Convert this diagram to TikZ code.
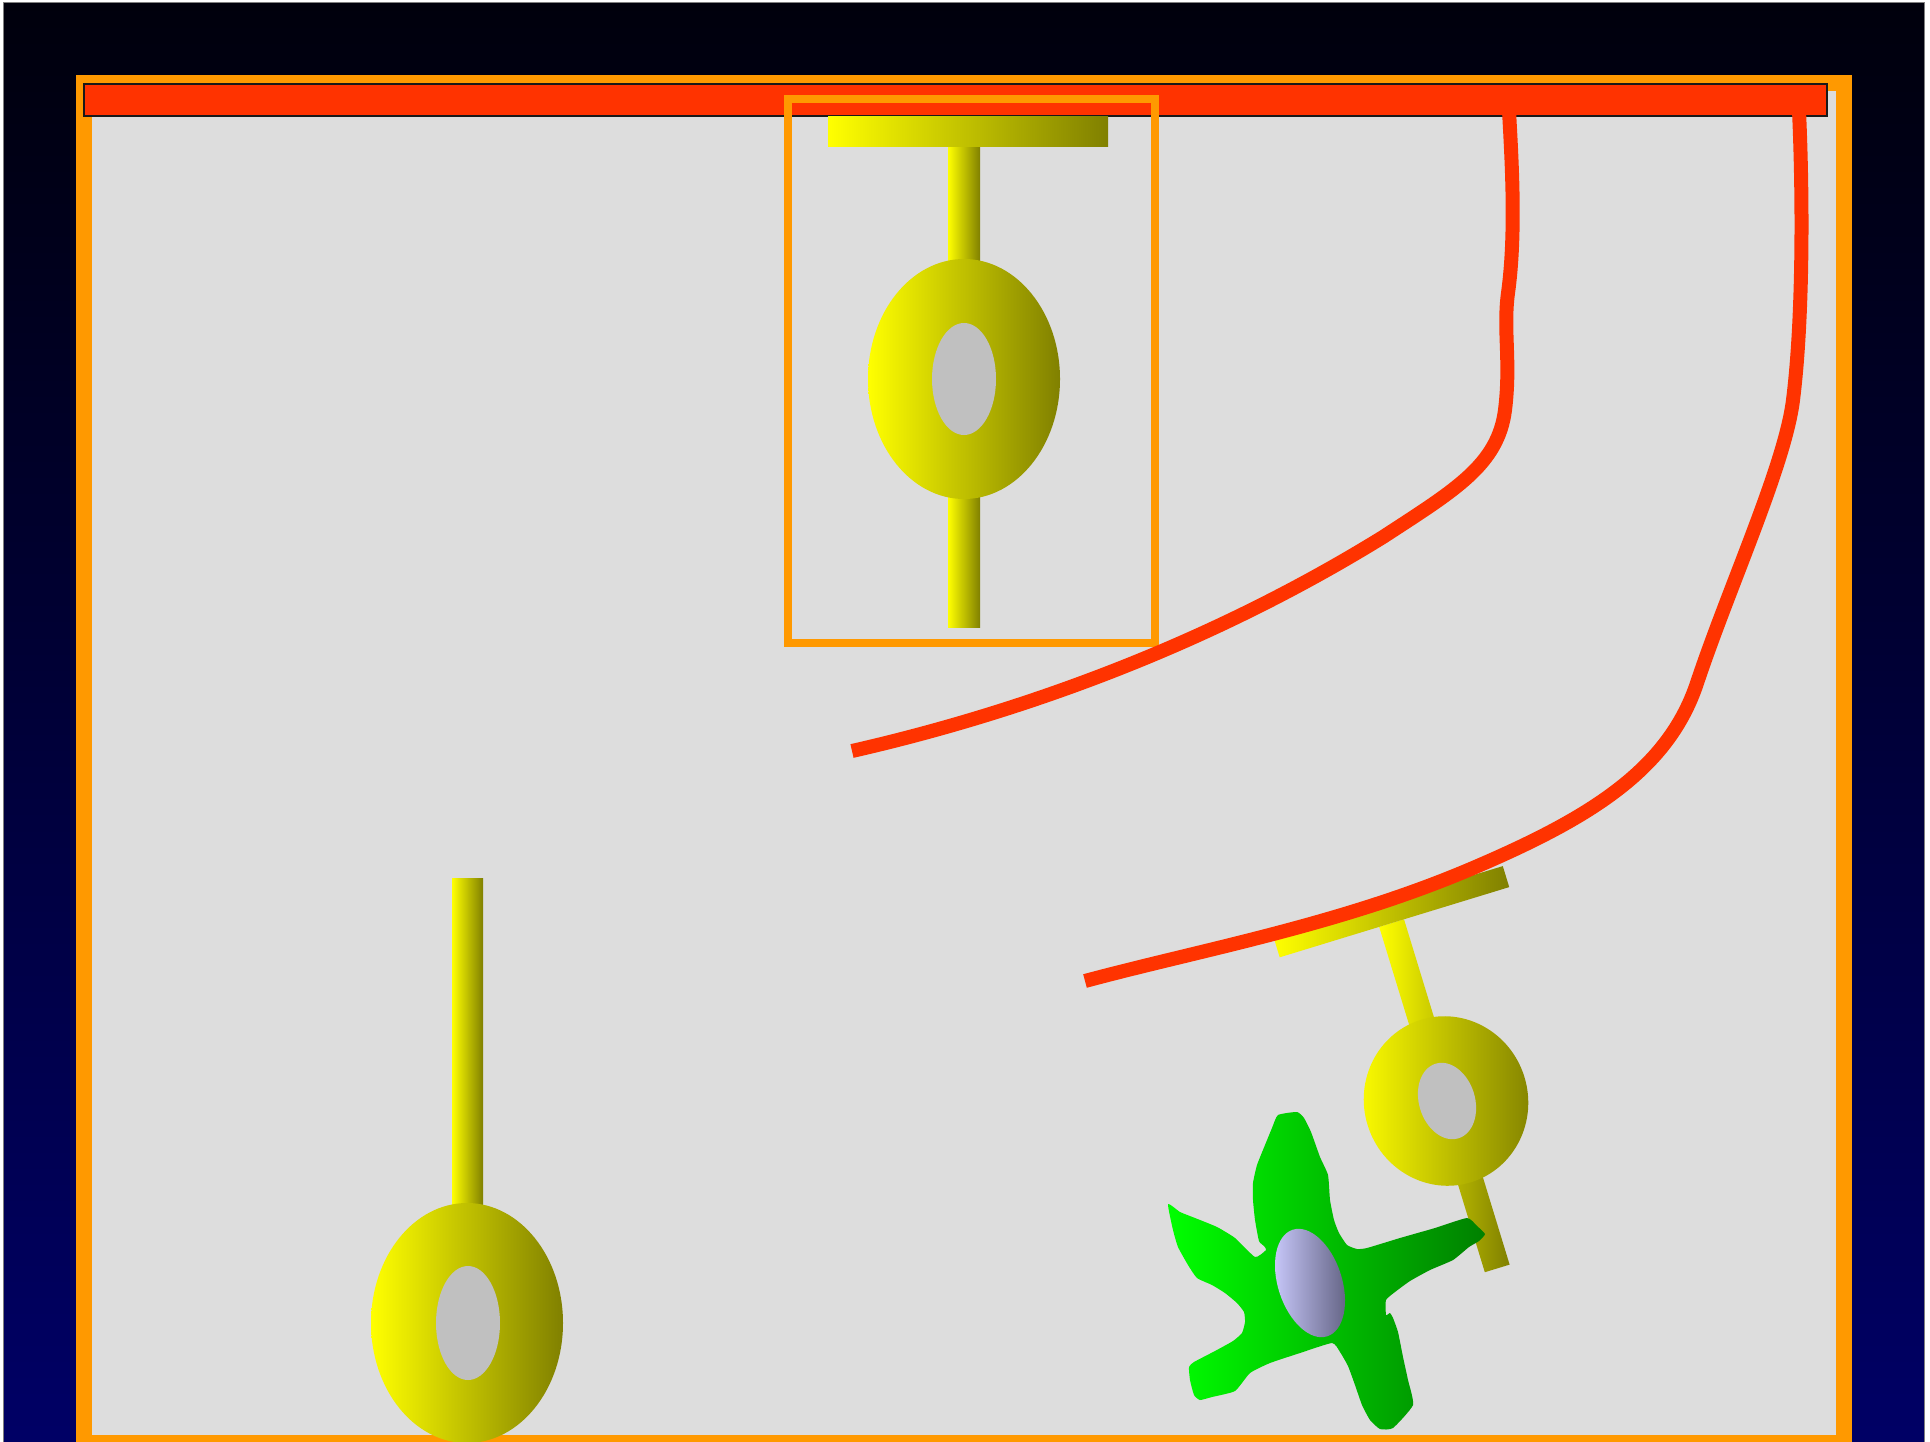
\documentclass[tikz,border=0pt]{standalone}
\usetikzlibrary{calc}
\definecolor{bgtop}{RGB}{0,0,12}
\definecolor{bgbottom}{RGB}{0,0,102}
\definecolor{chamber}{HTML}{DDDDDD}
\definecolor{frameorange}{HTML}{FF9900}
\definecolor{cellred}{HTML}{FF3300}
\definecolor{cellyellow}{HTML}{FFFF00}
\definecolor{cellolive}{HTML}{808000}
\definecolor{nucgrey}{HTML}{C0C0C0}
\definecolor{leafgreen}{HTML}{00FF00}
\definecolor{darkleaf}{HTML}{008000}
\definecolor{lavlight}{HTML}{CCCCFF}
\definecolor{lavdark}{HTML}{606080}
\begin{document}
\begin{tikzpicture}[x=1pt,y=-1pt,
  membrane/.style={draw=cellred, line width=14pt, line cap=butt, line join=round},
  cellbody/.style={left color=cellyellow, right color=cellolive},
  nucleus/.style={fill=nucgrey},
  greencell/.style={left color=leafgreen, right color=darkleaf},
  lavnucleus/.style={left color=lavlight, right color=lavdark}]
\useasboundingbox (0,0) rectangle (1930,1442);
\clip (0,0) rectangle (1930,1442);
\fill[white] (0,0) rectangle (1930,1442);

% dark backdrop
\shade[top color=bgtop, bottom color=bgbottom] (3,3) rectangle (1924,1450);
\draw[gray, line width=1pt] (3,1450) -- (3,3) -- (1924,3) -- (1924,1450);

% chamber with orange wall
\filldraw[fill=chamber, draw=frameorange, line width=16pt] (84,83) rectangle (1844,1443);

% red top plate
\filldraw[fill=cellred, draw=black!90, line width=2pt] (84,84) rectangle (1827,116);

% highlight box
\draw[frameorange, line width=8pt] (788,99) rectangle (1155,643);

% upper cell (hanging from the plate)
\shade[cellbody] (948,147) rectangle (980,627);
\shade[cellbody] (828,117) rectangle (1108,147);
\shade[cellbody] (964,379) ellipse [x radius=96, y radius=120];
\fill[nucleus] (964,379) ellipse [x radius=32, y radius=56];

% lower left cell
\shade[cellbody] (452,878) rectangle (483,1323);
\shade[cellbody] (467,1323) ellipse [x radius=96, y radius=120];
\fill[nucleus] (468,1323) ellipse [x radius=32, y radius=57];

% tilted cell on the right
\shade[cellbody] (1379.2,926.9) -- (1404.0,919.3) -- (1509.6,1264.6) -- (1484.8,1272.2) -- cycle;
\shade[cellbody] (1273.3,936.3) -- (1502.8,866.1) -- (1509.2,887.1) -- (1279.7,957.3) -- cycle;
\shade[cellbody] (1446,1101) ellipse [x radius=82, y radius=85, rotate=17];
\fill[nucleus] (1447,1101) ellipse [x radius=28, y radius=39, rotate=17];

% red strands
\coordinate (strandA) at (1509,111);
\coordinate (endA) at (852,751);
\draw[membrane] (strandA)
  .. controls (1512,165) and (1516,235) .. (1508,293)
  .. controls (1503,330) and (1511,362) .. (1505,410)
  .. controls (1498,465) and (1455,490) .. (1383,537)
  .. controls (1200,650) and (1010,715) .. (endA);
\coordinate (strandB) at (1799,111);
\coordinate (endB) at (1085,981);
\draw[membrane] (strandB)
  .. controls (1803,200) and (1803,320) .. (1793,400)
  .. controls (1785,465) and (1729,587) .. (1697,683)
  .. controls (1668,770) and (1590,818) .. (1473,868)
  .. controls (1340,925) and (1200,950) .. (endB);

% green star-shaped cell
\shade[greencell] plot[smooth cycle, tension=0.3] coordinates {
  (1278,1115) (1297,1112) (1304,1118) (1311,1132) (1320,1157) (1328,1175)
  (1330,1200) (1334,1220) (1339,1233) (1347,1245) (1357,1249) (1367,1248)
  (1400,1238) (1435,1228) (1467,1218) (1477,1226) (1485,1234) (1479,1241)
  (1469,1247) (1453,1260) (1430,1270) (1410,1281) (1395,1292) (1386,1300)
  (1386,1315) (1390,1313) (1393,1318) (1398,1332) (1403,1357) (1408,1380)
  (1413,1405) (1393,1428) (1380,1429) (1370,1420) (1362,1405) (1355,1385)
  (1348,1366) (1340,1352) (1332,1343) (1300,1353) (1270,1363) (1250,1373)
  (1235,1391) (1212,1397) (1200,1400) (1194,1395) (1190,1380) (1189,1367)
  (1194,1362) (1215,1351) (1233,1341) (1242,1333) (1245,1322) (1244,1312)
  (1237,1303) (1225,1293) (1212,1285) (1197,1278) (1188,1265) (1178,1247)
  (1173,1230) (1168,1204) (1180,1212) (1195,1218) (1217,1227) (1235,1238)
  (1255,1257) (1266,1250) (1264,1246) (1259,1241) (1255,1220) (1253,1200)
  (1253,1183) (1257,1165) (1265,1145) (1272,1128)};
\shade[lavnucleus] (1310,1283) ellipse [x radius=32, y radius=56, rotate=18];
\end{tikzpicture}
\end{document}
